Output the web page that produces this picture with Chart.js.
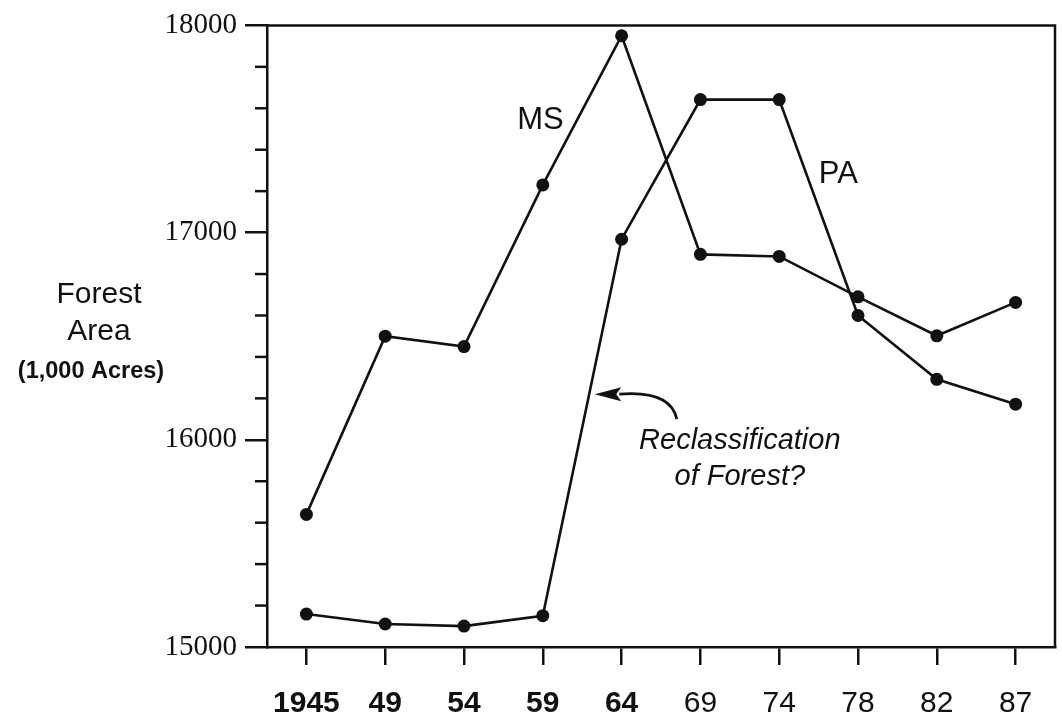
<!DOCTYPE html>
<html>
<head>
<meta charset="utf-8">
<script src="https://cdn.jsdelivr.net/npm/chart.js@4"></script>
<style>
html,body{margin:0;padding:0;background:#fff;}
#wrap{width:1062px;height:725px;}
</style>
</head>
<body>
<div id="wrap"><canvas id="c" width="1062" height="725"></canvas></div>
<script>
const years = ['1945','49','54','59','64','69','74','78','82','87'];
const msValues = [15640,16500,16450,17230,17950,16895,16885,16690,16502,16663];
const paValues = [15159,15111,15101,15151,16968,17642,17642,16600,16292,16172];
const yMin = 15000, yMax = 18000, yMajorStep = 1000, yMinorStep = 200;
const seriesLabels = [
  {text:'MS', x:2.97, y:17542},
  {text:'PA', x:6.75, y:17282}
];
const noteLines = [
  {text:'Reclassification', x:5.5, y:15993},
  {text:'of Forest?', x:5.5, y:15822}
];
// arrow: start, control, end (in category index / data value)
const arrowPath = {start:[4.70,16100], ctrl:[4.62,16240], end:[3.97,16220], tip:[3.66,16220]};
const yTitleLines = [
  {text:'Forest', font:'30px "Liberation Sans"', x:99, y:295},
  {text:'Area', font:'30px "Liberation Sans"', x:99, y:332},
  {text:'(1,000 Acres)', font:'bold 23.5px "Liberation Sans"', x:91, y:372}
];

const INK = '#111';

const decor = {
  id:'decor',
  afterDraw(chart){
    const {ctx, chartArea:a, scales:{x, y}} = chart;
    ctx.save();
    // frame top & right
    ctx.strokeStyle = INK; ctx.lineWidth = 2.5;
    ctx.beginPath();
    ctx.moveTo(a.left, a.top); ctx.lineTo(a.right, a.top); ctx.lineTo(a.right, a.bottom);
    ctx.stroke();
    // minor y ticks
    ctx.lineWidth = 2.5;
    for (let v = yMin; v <= yMax; v += yMinorStep) {
      if (v % yMajorStep === 0) continue;
      const py = y.getPixelForValue(v);
      ctx.beginPath(); ctx.moveTo(a.left - 12, py); ctx.lineTo(a.left, py); ctx.stroke();
    }
    // series labels
    ctx.fillStyle = INK;
    ctx.textAlign = 'center'; ctx.textBaseline = 'middle';
    ctx.font = '31px "Liberation Sans"';
    seriesLabels.forEach(l => ctx.fillText(l.text, x.getPixelForValue(l.x), y.getPixelForValue(l.y)));
    ctx.font = 'italic 29px "Liberation Sans"';
    noteLines.forEach(l => ctx.fillText(l.text, x.getPixelForValue(l.x), y.getPixelForValue(l.y)));
    // arrow
    const P = p => [x.getPixelForValue(p[0]), y.getPixelForValue(p[1])];
    const s = P(arrowPath.start), c = P(arrowPath.ctrl), e = P(arrowPath.end), t = P(arrowPath.tip);
    ctx.lineWidth = 2.8;
    ctx.beginPath(); ctx.moveTo(s[0], s[1]); ctx.quadraticCurveTo(c[0], c[1], e[0], e[1]); ctx.stroke();
    ctx.beginPath();
    ctx.moveTo(t[0], t[1]); ctx.lineTo(e[0]+2, e[1]-7); ctx.lineTo(e[0]-3, e[1]); ctx.lineTo(e[0]+2, e[1]+7); ctx.closePath();
    ctx.fill();
    // y title
    yTitleLines.forEach(l => { ctx.font = l.font; ctx.fillText(l.text, l.x, l.y); });
    ctx.restore();
  }
};

new Chart(document.getElementById('c'), {
  type:'line',
  data:{
    labels: years,
    datasets:[
      {label:'MS', data: msValues},
      {label:'PA', data: paValues}
    ]
  },
  options:{
    responsive:false,
    animation:false,
    layout:{padding:{left:0, right:7, top:23, bottom:0}},
    elements:{
      line:{borderColor:INK, borderWidth:2.6, tension:0, fill:false},
      point:{radius:6.5, backgroundColor:INK, borderWidth:0, hoverRadius:6.5}
    },
    plugins:{legend:{display:false}, tooltip:{enabled:false}, title:{display:false}},
    scales:{
      x:{
        type:'category',
        offset:true,
        grid:{display:true, drawOnChartArea:false, drawTicks:true, tickLength:18, color:INK, lineWidth:2.5, offset:false},
        border:{display:true, color:INK, width:2.5},
        ticks:{
          color:INK, padding:21, maxRotation:0, autoSkip:false,
          font:(ctx) => ({family:'"Liberation Sans"', size:30, weight: ctx.index < 5 ? 'bold' : 'normal'})
        },
        afterFit(scale){ scale.height = 78; }
      },
      y:{
        min:yMin, max:yMax,
        grid:{display:true, drawOnChartArea:false, drawTicks:true, tickLength:22, lineWidth:2.5,
              color:(ctx)=> (ctx.tick && ctx.tick.value % yMajorStep === 0) ? INK : 'rgba(0,0,0,0)'},
        border:{display:true, color:INK, width:2.5},
        ticks:{
          stepSize:yMinorStep, autoSkip:false, color:INK, padding:8,
          font:{family:'"Liberation Serif"', size:29},
          callback:(v)=> (v % yMajorStep === 0 ? String(v) : '')
        },
        afterFit(scale){ scale.width = 267; }
      }
    }
  },
  plugins:[decor]
});
</script>
</body>
</html>
